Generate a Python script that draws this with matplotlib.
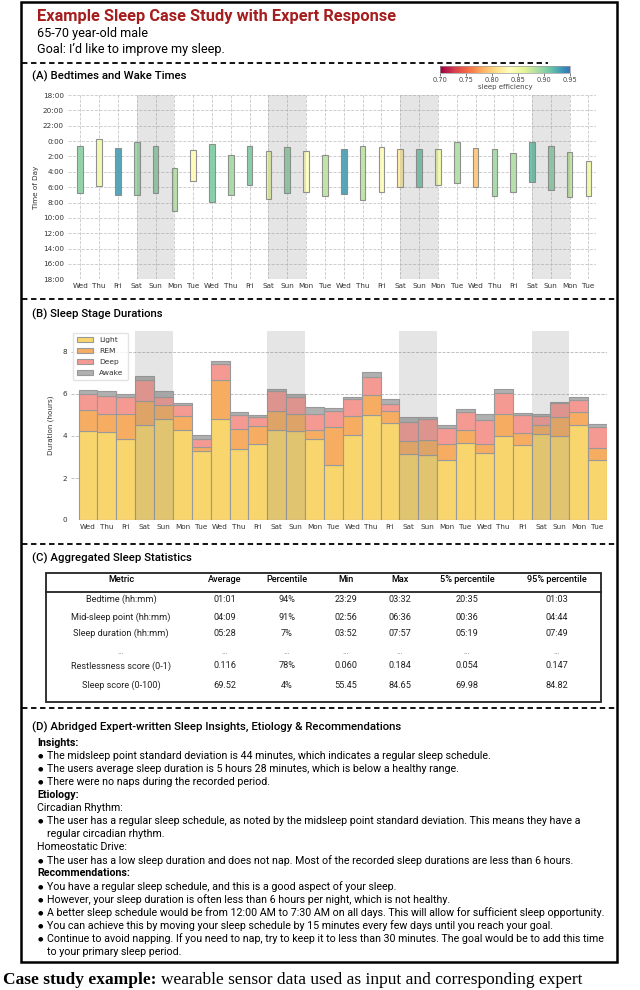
import numpy as np
import matplotlib.pyplot as plt
from matplotlib.patches import Rectangle
from matplotlib.lines import Line2D
from matplotlib.colors import Normalize, ListedColormap
from matplotlib.cm import ScalarMappable

FONT = ['Roboto', 'DejaVu Sans']

# 28 nights, starting on a Wednesday
DAYS = ['Wed', 'Thu', 'Fri', 'Sat', 'Sun', 'Mon', 'Tue'] * 4
SATURDAYS = [3, 10, 17, 24]

# (A) bed / wake times in hours relative to midnight, and sleep efficiency
BEDTIME = [0.60, -0.30, 0.95, 0.17, 0.69, 3.56, 1.13, 0.39, 1.87, 0.65, 1.30, 0.78, 1.30, 1.87,
           1.04, 0.65, 0.82, 1.04, 1.09, 1.09, 0.17, 0.95, 1.00, 1.52, 0.17, 0.69, 1.39, 2.56]
WAKETIME = [6.81, 5.82, 6.99, 6.99, 6.77, 9.07, 5.21, 7.99, 7.03, 5.69, 7.50, 6.73, 6.68, 7.20,
            6.90, 7.68, 6.60, 6.03, 6.03, 5.69, 5.51, 6.03, 7.20, 6.60, 5.30, 6.34, 7.25, 7.20]
EFFICIENCY = [0.900, 0.850, 0.930, 0.895, 0.900, 0.885, 0.830, 0.905, 0.890, 0.905, 0.855, 0.900,
              0.835, 0.880, 0.930, 0.880, 0.830, 0.820, 0.910, 0.850, 0.885, 0.795, 0.890, 0.885,
              0.915, 0.900, 0.880, 0.850]
HOUR_TICKS = list(range(-6, 19, 2))
HOUR_LABELS = ['18:00', '20:00', '22:00', '0:00', '2:00', '4:00', '6:00', '8:00', '10:00',
               '12:00', '14:00', '16:00', '18:00']
EFF_TICKS = [0.70, 0.75, 0.80, 0.85, 0.90, 0.95]

# (B) sleep stage durations (hours)
LIGHT = [4.24, 4.19, 3.87, 4.54, 4.83, 4.29, 3.27, 4.83, 3.36, 3.63, 4.30, 4.25, 3.86, 2.60,
         4.05, 4.99, 4.64, 3.14, 3.08, 2.88, 3.67, 3.19, 3.98, 3.55, 4.11, 4.00, 4.54, 2.87]
REM = [1.00, 0.88, 1.18, 1.13, 0.67, 0.68, 0.20, 1.82, 0.99, 0.86, 0.91, 0.80, 0.43, 1.85,
       0.91, 0.97, 0.56, 0.64, 0.74, 0.75, 0.63, 0.44, 1.06, 0.61, 0.40, 0.92, 0.58, 0.57]
DEEP = [0.78, 0.84, 0.83, 0.99, 0.38, 0.50, 0.37, 0.78, 0.67, 0.43, 0.93, 0.83, 0.78, 0.75,
        0.82, 0.83, 0.31, 0.87, 0.99, 0.74, 0.82, 1.12, 1.03, 0.83, 0.43, 0.64, 0.60, 1.01]
AWAKE = [0.18, 0.21, 0.11, 0.18, 0.24, 0.08, 0.19, 0.16, 0.10, 0.08, 0.09, 0.11, 0.32, 0.15,
         0.08, 0.24, 0.27, 0.27, 0.08, 0.16, 0.15, 0.32, 0.18, 0.11, 0.11, 0.07, 0.13, 0.14]
STAGES = [('Light', LIGHT, '#f8d66d'), ('REM', REM, '#f6ad62'),
          ('Deep', DEEP, '#f59a92'), ('Awake', AWAKE, '#b0b0b0')]

# (C) table
TABLE_HEADER = ['Metric', 'Average', 'Percentile', 'Min', 'Max', '5% percentile', '95% percentile']
TABLE_ROWS = [
    ['Bedtime (hh:mm)', '01:01', '94%', '23:29', '03:32', '20:35', '01:03'],
    ['Mid-sleep point (hh:mm)', '04:09', '91%', '02:56', '06:36', '00:36', '04:44'],
    ['Sleep duration (hh:mm)', '05:28', '7%', '03:52', '07:57', '05:19', '07:49'],
    ['...', '...', '...', '...', '...', '...', '...'],
    ['Restlessness score (0-1)', '0.116', '78%', '0.060', '0.184', '0.054', '0.147'],
    ['Sleep score (0-100)', '69.52', '4%', '55.45', '84.65', '69.98', '84.82'],
]

# (D) expert text
EXPERT_LINES = [
    ('Insights:', 'head'),
    ('The midsleep point standard deviation is 44 minutes, which indicates a regular sleep schedule.', 'bullet'),
    ('The users average sleep duration is 5 hours 28 minutes, which is below a healthy range.', 'bullet'),
    ('There were no naps during the recorded period.', 'bullet'),
    ('Etiology:', 'head'),
    ('Circadian Rhythm:', 'sub'),
    ('The user has a regular sleep schedule, as noted by the midsleep point standard deviation. This means they have a', 'bullet'),
    ('regular circadian rhythm.', 'cont'),
    ('Homeostatic Drive:', 'sub'),
    ('The user has a low sleep duration and does not nap. Most of the recorded sleep durations are less than 6 hours.', 'bullet'),
    ('Recommendations:', 'head'),
    ('You have a regular sleep schedule, and this is a good aspect of your sleep.', 'bullet'),
    ('However, your sleep duration is often less than 6 hours per night, which is not healthy.', 'bullet'),
    ('A better sleep schedule would be from 12:00 AM to 7:30 AM on all days. This will allow for sufficient sleep opportunity.', 'bullet'),
    ('You can achieve this by moving your sleep schedule by 15 minutes every few days until you reach your goal.', 'bullet'),
    ('Continue to avoid napping. If you need to nap, try to keep it to less than 30 minutes. The goal would be to add this time', 'bullet'),
    ('to your primary sleep period.', 'cont'),
]

W, H = 640, 990


def fx(x):
    return x / W


def fy(y):
    return 1 - y / H


fig = plt.figure(figsize=(6.4, 9.9), dpi=100)

# outer frame and dashed separators
fig.add_artist(Rectangle((fx(21), fy(962)), fx(617) - fx(21), fy(2) - fy(962),
                         transform=fig.transFigure, fill=False, lw=1.8, ec='black'))
for y, x1 in [(63, 548), (299, 615), (544, 615), (708, 617)]:
    fig.add_artist(Line2D([fx(22), fx(x1)], [fy(y), fy(y)], transform=fig.transFigure,
                          color='black', lw=1.3, ls=(0, (3, 2))))

# header
fig.text(fx(37), fy(17), 'Example Sleep Case Study with Expert Response', color='#a51d1d',
         fontsize=11.8, fontweight='semibold', family=FONT, va='center')
fig.text(fx(37), fy(34), '65-70 year-old male', fontsize=9.1, family=FONT, va='center')
fig.text(fx(37), fy(50), 'Goal: I’d like to improve my sleep.', fontsize=9.1, family=FONT, va='center')

for y, label in [(76, '(A) Bedtimes and Wake Times'), (314, '(B) Sleep Stage Durations'),
                 (558, '(C) Aggregated Sleep Statistics'),
                 (727, '(D) Abridged Expert-written Sleep Insights, Etiology & Recommendations')]:
    fig.text(fx(32), fy(y), label, fontsize=8.2, fontweight='medium', family=FONT, va='center')

x = np.arange(len(DAYS))

# (A) bedtimes and wake times
cmap = ListedColormap(plt.get_cmap('Spectral')(np.linspace(0, 0.93, 256)))
norm = Normalize(0.70, 0.95)
ax1 = fig.add_axes([fx(68), fy(279.3), fx(596) - fx(68), (279.3 - 95) / H])
bed = np.array(BEDTIME)
wake = np.array(WAKETIME)
ax1.bar(x, wake - bed, bottom=bed, width=0.3, color=cmap(norm(EFFICIENCY)),
        edgecolor='#888888', lw=0.8, alpha=0.92, zorder=2)
for s in SATURDAYS:
    ax1.axvspan(s, s + 2, color='gray', alpha=0.2, lw=0, zorder=3)
ax1.set_xlim(-0.65, 27.4)
ax1.set_ylim(18, -6)
ax1.set_xticks(x)
ax1.set_xticklabels(DAYS)
ax1.set_yticks(HOUR_TICKS)
ax1.set_yticklabels(HOUR_LABELS)
ax1.grid(True, ls='--', color='#c8c8c8', lw=0.6, zorder=0)
ax1.set_axisbelow(True)
for sp in ax1.spines.values():
    sp.set_visible(False)
ax1.tick_params(length=0, labelsize=5.2, labelcolor='#333333', pad=3)
ax1.set_ylabel('Time of Day', fontsize=5.2, color='#333333', labelpad=3)

cax = fig.add_axes([fx(440), fy(72.5), fx(570) - fx(440), 6 / H])
cbar = fig.colorbar(ScalarMappable(norm=norm, cmap=cmap), cax=cax, orientation='horizontal',
                    ticks=EFF_TICKS)
cbar.set_alpha(0.85)
cbar.ax.set_xticklabels([f'{t:.2f}' for t in EFF_TICKS])
cbar.ax.tick_params(labelsize=4.8, length=2, width=0.5, pad=1, colors='#444444')
cbar.outline.set_edgecolor('#999999')
cbar.outline.set_linewidth(0.5)
cbar.set_label('sleep efficiency', fontsize=5, color='#444444', labelpad=1)

# (B) sleep stage durations
ax2 = fig.add_axes([fx(71), fy(520), fx(607) - fx(71), (520 - 331) / H])
bottom = np.zeros(len(DAYS))
for name, vals, color in STAGES:
    ax2.bar(x, vals, bottom=bottom, width=1.0, color=color, edgecolor='#999999', lw=0.8,
            label=name, zorder=2)
    bottom += np.array(vals)
for s in SATURDAYS:
    ax2.axvspan(s - 0.5, s + 1.5, color='gray', alpha=0.2, lw=0, zorder=3)
ax2.set_xlim(-0.9, 27.5)
ax2.set_ylim(0, 9)
ax2.set_xticks(x)
ax2.set_xticklabels(DAYS)
ax2.set_yticks([0, 2, 4, 6, 8])
ax2.yaxis.grid(True, ls='--', color='#b8b8b8', lw=0.6, zorder=0)
ax2.set_axisbelow(True)
for sp in ax2.spines.values():
    sp.set_visible(False)
ax2.tick_params(length=0, labelsize=5.2, labelcolor='#333333', pad=3)
ax2.set_ylabel('Duration (hours)', fontsize=5.2, color='#333333', labelpad=6)
ax2.legend(loc='upper left', fontsize=5.4, frameon=True, edgecolor='#dddddd', fancybox=True,
           borderaxespad=0.2, handlelength=2.2, labelspacing=0.65, borderpad=0.55,
           labelcolor='#333333')

# (C) aggregated statistics table
fig.add_artist(Rectangle((fx(45.7), fy(702)), fx(601) - fx(45.7), fy(572.7) - fy(702),
                         transform=fig.transFigure, fill=False, lw=1.3, ec='#222222'))
fig.add_artist(Line2D([fx(45.7), fx(601)], [fy(591.7), fy(591.7)], transform=fig.transFigure,
                      color='#222222', lw=1.3))
col_x = [121, 225, 287, 346, 400, 467, 557]
for cx, head in zip(col_x, TABLE_HEADER):
    fig.text(fx(cx), fy(580), head, fontsize=6.6, fontweight='medium', family=FONT,
             ha='center', va='center')
row_y = [599, 617, 633, 651, 666, 685]
for ry, row in zip(row_y, TABLE_ROWS):
    for cx, cell in zip(col_x, row):
        gray = cell == '...'
        fig.text(fx(cx), fy(ry), cell, fontsize=6.2 if gray else 6.6, family=FONT,
                 color='#777777' if gray else '#222222', ha='center', va='center')

# (D) expert text
y0, step = 743, 13.05
for i, (line, kind) in enumerate(EXPERT_LINES):
    yy = fy(y0 + i * step)
    if kind == 'head':
        fig.text(fx(37), yy, line, fontsize=7.7, fontweight='bold', family=FONT, va='center')
    elif kind == 'sub':
        fig.text(fx(37), yy, line, fontsize=7.7, family=FONT, va='center')
    elif kind == 'bullet':
        fig.text(fx(37.5), yy, '●', fontsize=4.5, family=['DejaVu Sans'], va='center')
        fig.text(fx(47), yy, line, fontsize=7.7, family=FONT, va='center')
    else:
        fig.text(fx(47), yy, line, fontsize=7.7, family=FONT, va='center')

# caption below the frame
renderer = fig.canvas.get_renderer()
t1 = fig.text(fx(3), fy(988), 'Case study example:', fontsize=12.5, fontweight='bold',
              family=['Liberation Serif'], va='bottom')
bb = t1.get_window_extent(renderer=renderer)
fig.text(fx(bb.x1 + 5), fy(988), 'wearable sensor data used as input and corresponding expert',
         fontsize=12.5, family=['Liberation Serif'], va='bottom')

fig.savefig('out.png', dpi=100)
